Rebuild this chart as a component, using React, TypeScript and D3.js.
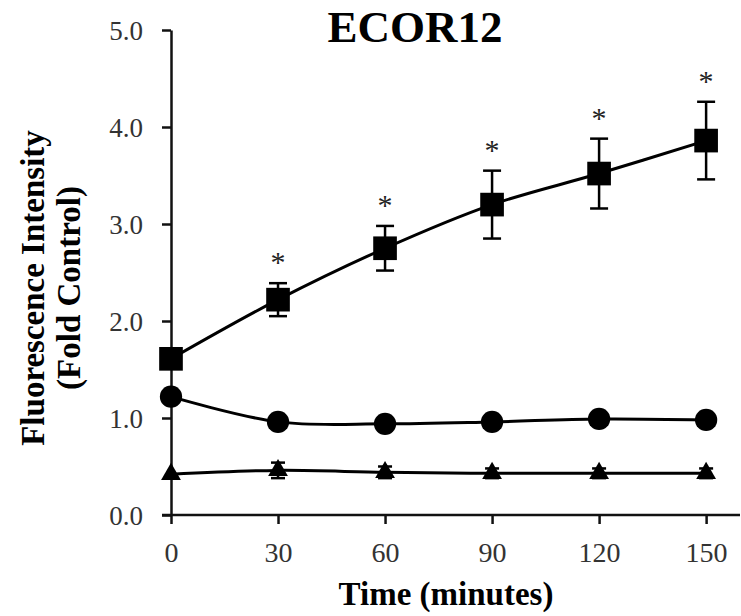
import React, { useEffect, useRef } from 'react';
import * as d3 from 'd3';

const times = [0, 30, 60, 90, 120, 150];
const squareMean = [1.61, 2.22, 2.75, 3.2, 3.52, 3.86];
const squareErr = [0.0, 0.17, 0.23, 0.35, 0.36, 0.4];
const squareStar = [false, true, true, true, true, true];
const circleMean = [1.22, 0.96, 0.94, 0.96, 0.99, 0.98];
const circleErr = [0.0, 0.0, 0.0, 0.0, 0.0, 0.0];
const triangleMean = [0.42, 0.46, 0.44, 0.43, 0.43, 0.43];
const triangleErr = [0.0, 0.08, 0.06, 0.05, 0.05, 0.05];
const yTicks = [0, 1, 2, 3, 4, 5];
const xTicks = [0, 30, 60, 90, 120, 150];

const W = 741;
const H = 616;
const serif = '"Liberation Serif", "Times New Roman", serif';

const App: React.FC = () => {
  const svgRef = useRef<SVGSVGElement>(null);

  useEffect(() => {
    if (!svgRef.current) return;
    const svg = d3.select(svgRef.current);
    svg.selectAll('*').remove();

    const x = d3.scaleLinear().domain([0, 159.5]).range([171, 740]);
    const y = d3.scaleLinear().domain([0, 5]).range([515, 30]);

    // Axes
    const yAxis = svg.append('g')
      .attr('transform', `translate(${x(0)},0)`)
      .call(d3.axisLeft(y).tickValues(yTicks).tickFormat(d3.format('.1f')).tickSize(9).tickSizeOuter(0).tickPadding(19));
    yAxis.select('.domain').attr('stroke-width', 2.5).attr('stroke', '#111');
    yAxis.selectAll('.tick line').attr('stroke-width', 2.5).attr('stroke', '#111');
    yAxis.selectAll('.tick text')
      .style('font-family', serif).style('font-size', '27px').attr('fill', '#333').attr('dy', '0.34em');

    const xAxis = svg.append('g')
      .attr('transform', `translate(0,${y(0)})`)
      .call(d3.axisBottom(x).tickValues(xTicks).tickSize(9).tickSizeOuter(0).tickPadding(18));
    xAxis.select('.domain').remove();
    xAxis.append('line')
      .attr('x1', x(0) - 9).attr('x2', x.range()[1])
      .attr('stroke', '#111').attr('stroke-width', 2.5);
    xAxis.selectAll('.tick line').attr('stroke-width', 2.5).attr('stroke', '#111');
    xAxis.selectAll('.tick text')
      .style('font-family', serif).style('font-size', '28px').attr('fill', '#333');

    const line = d3.line<number>()
      .x((_, i) => x(times[i]))
      .y(d => y(d))
      .curve(d3.curveCatmullRom.alpha(0.5));

    const drawSeries = (mean: number[], err: number[], symbol: d3.SymbolType, size: number, capW: number) => {
      const g = svg.append('g');
      g.append('path')
        .datum(mean)
        .attr('fill', 'none')
        .attr('stroke', '#000')
        .attr('stroke-width', 3)
        .attr('d', line);
      mean.forEach((m, i) => {
        if (err[i] <= 0) return;
        const cx = x(times[i]);
        const top = y(m + err[i]);
        const bot = y(m - err[i]);
        g.append('line').attr('x1', cx).attr('x2', cx).attr('y1', top).attr('y2', bot)
          .attr('stroke', '#000').attr('stroke-width', 2.5);
        [top, bot].forEach(yy => {
          g.append('line').attr('x1', cx - capW / 2).attr('x2', cx + capW / 2).attr('y1', yy).attr('y2', yy)
            .attr('stroke', '#000').attr('stroke-width', 2.5);
        });
      });
      g.selectAll('path.mark')
        .data(mean)
        .enter().append('path')
        .attr('class', 'mark')
        .attr('transform', (d, i) => `translate(${x(times[i])},${y(d)})`)
        .attr('d', d3.symbol().type(symbol).size(size)())
        .attr('fill', '#000');
    };

    drawSeries(triangleMean, triangleErr, d3.symbolTriangle, 170, 14);
    drawSeries(circleMean, circleErr, d3.symbolCircle, 390, 14);
    drawSeries(squareMean, squareErr, d3.symbolSquare, 560, 18);

    // Significance stars
    svg.append('g').selectAll('text')
      .data(squareMean.map((m, i) => ({ m, i })).filter(d => squareStar[d.i]))
      .enter().append('text')
      .attr('x', d => x(times[d.i]))
      .attr('y', d => y(d.m + squareErr[d.i]) - 11)
      .attr('text-anchor', 'middle')
      .style('font-family', serif)
      .style('font-size', '30px')
      .attr('fill', '#222')
      .text('*');

    // Title
    svg.append('text')
      .attr('x', 415).attr('y', 42)
      .attr('text-anchor', 'middle')
      .style('font-family', serif).style('font-size', '45px').style('font-weight', 'bold')
      .text('ECOR12');

    // X axis title
    svg.append('text')
      .attr('x', 446).attr('y', 605)
      .attr('text-anchor', 'middle')
      .style('font-family', serif).style('font-size', '33px').style('font-weight', 'bold')
      .text('Time (minutes)');

    // Y axis title
    const yt = svg.append('text')
      .attr('transform', 'translate(44,288) rotate(-90)')
      .attr('text-anchor', 'middle')
      .style('font-family', serif).style('font-size', '33px').style('font-weight', 'bold');
    yt.append('tspan').attr('x', 0).attr('dy', 0).text('Fluorescence Intensity');
    yt.append('tspan').attr('x', 0).attr('dy', 36).text('(Fold Control)');
  }, []);

  return (
    <svg
      ref={svgRef}
      width={W}
      height={H}
      style={{ position: 'absolute', left: 0, top: 0, background: '#fff' }}
    />
  );
};

export default App;
